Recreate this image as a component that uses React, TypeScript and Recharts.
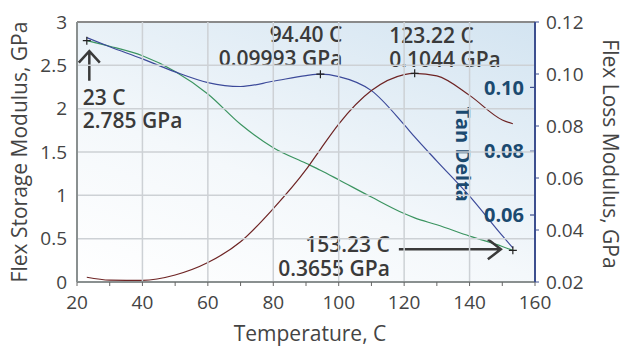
import React from "react";
import {
  ComposedChart,
  Line,
  XAxis,
  YAxis,
  ReferenceDot,
  ReferenceLine,
} from "recharts";

// temperature (C) and the three DMA curves
const temps = [23, 30, 40, 50, 60, 70, 80, 90, 94.4, 100, 110, 120, 123.22, 130, 140, 150, 153.23];
const storage = [2.785, 2.72, 2.61, 2.43, 2.17, 1.82, 1.55, 1.37, 1.29, 1.18, 0.98, 0.79, 0.74, 0.66, 0.53, 0.41, 0.3655];
const loss = [0.114, 0.1105, 0.1058, 0.1008, 0.0967, 0.0952, 0.0972, 0.0994, 0.09993, 0.099, 0.0936, 0.0805, 0.0758, 0.0665, 0.053, 0.0378, 0.0331];
const tanDelta = [0.0405, 0.0396, 0.0395, 0.0412, 0.0451, 0.0516, 0.062, 0.0742, 0.0806, 0.0885, 0.099, 0.104, 0.1044, 0.1036, 0.0975, 0.0898, 0.0886];

const xTicks = [20, 30, 40, 50, 60, 70, 80, 90, 100, 110, 120, 130, 140, 150, 160];
const storageTicks = [0, 0.5, 1, 1.5, 2, 2.5, 3];
const lossTicks = [0.02, 0.04, 0.06, 0.08, 0.1, 0.12];
const tanTicks = [0.06, 0.08, 0.1];

const rows = temps.map((t, i) => ({ t, storage: storage[i], loss: loss[i], tan: tanDelta[i] }));

const FONT = "'Open Sans', 'DejaVu Sans', sans-serif";
const INK = "#3a3a3a";
const TAN = "#1b4a70";
const GRID = "#cdd1d5";

const annoText = { fontFamily: FONT, fontSize: 21, fontWeight: 600, fill: INK } as const;
const tickStyle = { fill: "#444", fontSize: 19, fontFamily: FONT };
const titleStyle = { fill: "#444", fontSize: 21, fontFamily: FONT };

// x ticks: label every 20, grid line up through the plot for the inner ones
const XTick = ({ x, y, payload }: any) => {
  const v = payload.value;
  const major = v % 20 === 0;
  return (
    <g>
      {major && v > 20 && v < 160 && (
        <line x1={x} x2={x} y1={y - 15} y2={y - 274} stroke={GRID} strokeWidth={1.5} />
      )}
      {major && (
        <text x={x} y={y} dy="0.71em" textAnchor="middle" {...tickStyle}>{v}</text>
      )}
    </g>
  );
};

// left ticks: label plus horizontal grid line across the plot
const YTick = ({ x, y, payload }: any) => {
  const v = payload.value;
  return (
    <g>
      {v > 0 && v < 3 && (
        <line x1={x + 11} x2={x + 467} y1={y} y2={y} stroke={GRID} strokeWidth={1.5} />
      )}
      <text x={x} y={y} dy="0.355em" textAnchor="end" {...tickStyle}>{v}</text>
    </g>
  );
};

const plus = (cx: number, cy: number) => (
  <path d={`M${cx - 4},${cy}h8M${cx},${cy - 4}v8`} stroke="#222" strokeWidth={1.2} fill="none" />
);

const StartMark = ({ cx, cy }: any) => (
  <g>
    {plus(cx, cy)}
    <path d={`M${cx + 2.5},${cy + 40}V${cy + 11}M${cx - 8},${cy + 22}L${cx + 2.5},${cy + 10.5}L${cx + 13},${cy + 22}`}
      stroke={INK} strokeWidth={2.5} fill="none" />
    <text x={cx - 4} y={cy + 64} {...annoText}>23 C</text>
    <text x={cx - 4} y={cy + 87} {...annoText}>2.785 GPa</text>
  </g>
);

const LossPeak = ({ cx, cy }: any) => (
  <g>
    {plus(cx, cy)}
    <text x={cx + 22} y={cy - 32} textAnchor="end" {...annoText}>94.40 C</text>
    <text x={cx + 22} y={cy - 8.5} textAnchor="end" {...annoText}>0.09993 GPa</text>
  </g>
);

const TanPeak = ({ cx, cy }: any) => (
  <g>
    {plus(cx, cy)}
    <text x={cx - 25.5} y={cy - 30} {...annoText}>123.22 C</text>
    <text x={cx - 25.5} y={cy - 6.5} {...annoText}>0.1044 GPa</text>
  </g>
);

const EndMark = ({ cx, cy }: any) => (
  <g>
    {plus(cx, cy)}
    <path d={`M${cx - 114},${cy - 1}H${cx - 12}M${cx - 25},${cy - 11}L${cx - 12},${cy - 1}L${cx - 25},${cy + 9}`}
      stroke={INK} strokeWidth={2.5} fill="none" />
    <text x={cx - 123} y={cy + 2} textAnchor="end" {...annoText}>153.23 C</text>
    <text x={cx - 123} y={cy + 26} textAnchor="end" {...annoText}>0.3655 GPa</text>
  </g>
);

// inner tan delta scale: tick pointing into the plot plus bold label
const TanTick = (label: string, title: boolean) => ({ cx, cy }: any) => (
  <g>
    <line x1={cx - 5} y1={cy} x2={cx} y2={cy} stroke="#3d4f8f" strokeWidth={1.2} />
    <text x={cx - 11} y={cy} dy="0.36em" textAnchor="end" fill={TAN} fontSize={20} fontWeight={700}
      fontFamily={FONT}>{label}</text>
    {title && (
      <text x={cx - 72} y={cy + 3} textAnchor="middle" dominantBaseline="central"
        transform={`rotate(90 ${cx - 72} ${cy + 3})`} fill={TAN} fontSize={20} fontWeight={700}
        fontFamily={FONT}>Tan Delta</text>
    )}
  </g>
);

export default function App() {
  return (
    <div style={{ position: "absolute", left: 0, top: 0, width: 625, height: 347, background: "#fff" }}>
      <div
        style={{
          position: "absolute",
          left: 77,
          top: 22,
          width: 458,
          height: 260,
          background: "linear-gradient(20deg, #ffffff 0%, #f4f8fb 40%, #d3e4f1 100%)",
        }}
      />
      <div style={{ position: "absolute", left: 0, top: 0 }}>
        <ComposedChart width={625} height={347} data={rows} margin={{ top: 22, right: 0, bottom: 0, left: 0 }}>
          <XAxis
            type="number"
            dataKey="t"
            domain={[20, 160]}
            ticks={xTicks}
            interval={0}
            height={65}
            tickSize={4}
            tickMargin={10}
            tick={XTick}
            axisLine={{ stroke: "#8a9090", strokeWidth: 2 }}
            tickLine={{ stroke: "#666" }}
            label={() => (
              <text x={310} y={341} textAnchor="middle" {...titleStyle}>Temperature, C</text>
            )}
          />
          <YAxis
            yAxisId="left"
            width={77}
            domain={[0, 3]}
            ticks={storageTicks}
            interval={0}
            tickSize={0}
            tickMargin={10}
            tickLine={false}
            tick={YTick}
            axisLine={{ stroke: "#8a9090", strokeWidth: 2 }}
            label={() => (
              <text x={19} y={152} textAnchor="middle" dominantBaseline="central"
                transform="rotate(-90 19 152)" {...titleStyle}>Flex Storage Modulus, GPa</text>
            )}
          />
          <YAxis yAxisId="tan" orientation="right" hide domain={[0.039, 0.1205]} />
          <YAxis
            yAxisId="loss"
            orientation="right"
            width={90}
            domain={[0.02, 0.12]}
            ticks={lossTicks}
            tickFormatter={(v: number) => v.toFixed(2)}
            tickSize={4}
            tickMargin={7}
            tick={tickStyle}
            axisLine={{ stroke: "#3d4f8f", strokeWidth: 2 }}
            tickLine={{ stroke: "#3d4f8f" }}
            label={() => (
              <text x={611} y={154} textAnchor="middle" dominantBaseline="central"
                transform="rotate(90 611 154)" {...titleStyle}>Flex Loss Modulus, GPa</text>
            )}
          />
          <ReferenceLine yAxisId="left" y={3} stroke="#8a8a8a" strokeWidth={2} />
          <Line yAxisId="left" dataKey="storage" type="monotone" stroke="#3b9460" strokeWidth={1.2}
            dot={false} isAnimationActive={false} />
          <Line yAxisId="loss" dataKey="loss" type="monotone" stroke="#3c4a9a" strokeWidth={1.2}
            dot={false} isAnimationActive={false} />
          <Line yAxisId="tan" dataKey="tan" type="monotone" stroke="#6e2424" strokeWidth={1.2}
            dot={false} isAnimationActive={false} />
          {tanTicks.map((v) => (
            <ReferenceDot key={`t${v}`} yAxisId="tan" x={160} y={v} ifOverflow="visible"
              shape={TanTick(v.toFixed(2), v === 0.08)} />
          ))}
          <ReferenceDot yAxisId="left" x={temps[0]} y={storage[0]} shape={StartMark} />
          <ReferenceDot yAxisId="loss" x={temps[8]} y={loss[8]} shape={LossPeak} />
          <ReferenceDot yAxisId="tan" x={temps[12]} y={tanDelta[12]} shape={TanPeak} />
          <ReferenceDot yAxisId="left" x={temps[16]} y={storage[16]} shape={EndMark} />
        </ComposedChart>
      </div>
    </div>
  );
}
